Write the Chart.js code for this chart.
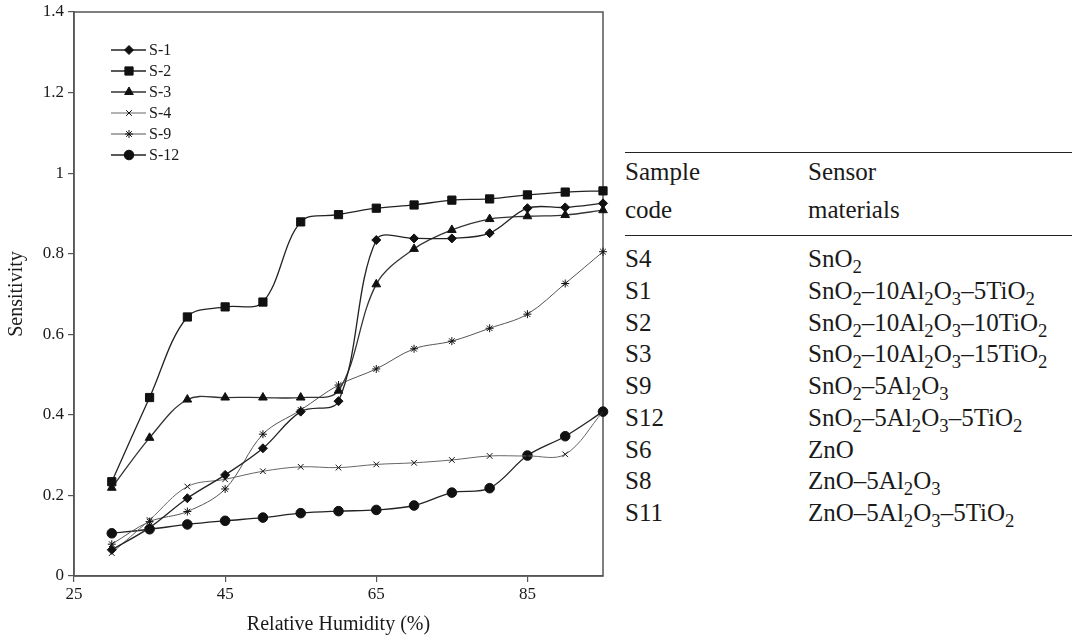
<!DOCTYPE html>
<html>
<head>
<meta charset="utf-8">
<script src="https://cdn.jsdelivr.net/npm/chart.js@4/dist/chart.umd.min.js"></script>
<style>
  body { margin: 0; background: #fff; }
  #wrap { position: relative; width: 1072px; height: 640px; font-family: "Liberation Serif", serif; color: #1a1a1a; }
  #plot { position: absolute; left: 0; top: 0; width: 615px; height: 640px; }
  #tbl { position: absolute; left: 625px; top: 152px; width: 447px; border-collapse: collapse; font-size: 25px; }
  #tbl th { font-weight: normal; text-align: left; line-height: 38px; padding: 0 0 6px 0; vertical-align: top; }
  #tbl thead tr { border-top: 1.5px solid #222; border-bottom: 1.5px solid #222; }
  #tbl td { line-height: 31.75px; padding: 0; white-space: nowrap; }
  #tbl tbody tr:first-child td { padding-top: 7px; }
  #tbl td:first-child, #tbl th:first-child { width: 183px; }
  sub { font-size: 0.75em; line-height: 0; vertical-align: -0.3em; }
</style>
</head>
<body>
<div id="wrap">
  <div id="plot"><canvas id="chart"></canvas></div>
  <table id="tbl">
    <thead><tr><th>Sample<br>code</th><th>Sensor<br>materials</th></tr></thead>
    <tbody id="tbl-body"></tbody>
  </table>
</div>
<script>
// humedad relativa (%)
const humidity = [30, 35, 40, 45, 50, 55, 60, 65, 70, 75, 80, 85, 90, 95]

// sensibilidad por muestra
const s1 = [0.065, 0.12, 0.193, 0.251, 0.317, 0.408, 0.434, 0.834, 0.838, 0.838, 0.851, 0.913, 0.915, 0.925]
const s2 = [0.234, 0.443, 0.643, 0.668, 0.68, 0.879, 0.897, 0.913, 0.921, 0.933, 0.936, 0.946, 0.953, 0.956]
const s3 = [0.219, 0.343, 0.438, 0.443, 0.443, 0.443, 0.46, 0.724, 0.812, 0.859, 0.886, 0.893, 0.896, 0.908]
const s4 = [0.057, 0.139, 0.222, 0.24, 0.26, 0.271, 0.269, 0.277, 0.281, 0.288, 0.298, 0.298, 0.302, 0.408]
const s9 = [0.079, 0.135, 0.16, 0.216, 0.352, 0.412, 0.474, 0.514, 0.564, 0.583, 0.615, 0.65, 0.726, 0.805]
const s12 = [0.106, 0.116, 0.128, 0.137, 0.145, 0.156, 0.161, 0.164, 0.175, 0.207, 0.218, 0.299, 0.347, 0.408]

const xTicks = [25, 45, 65, 85]
const yTicks = [0, 0.2, 0.4, 0.6, 0.8, 1, 1.2, 1.4]

// tabla de la derecha
const sampleCodes = ['S4', 'S1', 'S2', 'S3', 'S9', 'S12', 'S6', 'S8', 'S11']
const sensorMaterials = [
  'SnO<sub>2</sub>',
  'SnO<sub>2</sub>–10Al<sub>2</sub>O<sub>3</sub>–5TiO<sub>2</sub>',
  'SnO<sub>2</sub>–10Al<sub>2</sub>O<sub>3</sub>–10TiO<sub>2</sub>',
  'SnO<sub>2</sub>–10Al<sub>2</sub>O<sub>3</sub>–15TiO<sub>2</sub>',
  'SnO<sub>2</sub>–5Al<sub>2</sub>O<sub>3</sub>',
  'SnO<sub>2</sub>–5Al<sub>2</sub>O<sub>3</sub>–5TiO<sub>2</sub>',
  'ZnO',
  'ZnO–5Al<sub>2</sub>O<sub>3</sub>',
  'ZnO–5Al<sub>2</sub>O<sub>3</sub>–5TiO<sub>2</sub>'
]

const body = document.getElementById('tbl-body')
sampleCodes.forEach((code, i) => {
  const tr = document.createElement('tr')
  tr.innerHTML = `<td>${code}</td><td>${sensorMaterials[i]}</td>`
  body.appendChild(tr)
})

const serif = '"Liberation Serif", "Times New Roman", serif'

function serie(label, data, style, radius, color, width) {
  return {
    label,
    data: humidity.map((x, i) => ({ x, y: data[i] })),
    borderColor: color,
    borderWidth: width,
    pointStyle: style,
    pointRadius: radius,
    pointHoverRadius: radius,
    pointBackgroundColor: '#111',
    pointBorderColor: '#111',
    pointBorderWidth: 1,
    tension: 0.35,
    clip: false
  }
}

// leyenda dentro del area de la grafica
const insideLegend = {
  id: 'insideLegend',
  afterDatasetsDraw(chart) {
    const ctx = chart.ctx
    const x0 = chart.chartArea.left + 37
    chart.data.datasets.forEach((ds, i) => {
      const y = 50 + i * 21
      ctx.save()
      ctx.strokeStyle = ds.borderColor
      ctx.lineWidth = ds.borderWidth
      ctx.beginPath()
      ctx.moveTo(x0, y)
      ctx.lineTo(x0 + 35, y)
      ctx.stroke()
      ctx.fillStyle = ds.pointBackgroundColor
      ctx.strokeStyle = ds.pointBorderColor
      ctx.lineWidth = 1
      Chart.helpers.drawPoint(ctx, { pointStyle: ds.pointStyle, radius: ds.pointRadius, rotation: 0, borderWidth: 1 }, x0 + 18, y)
      ctx.fillStyle = '#1a1a1a'
      ctx.font = '16px ' + serif
      ctx.textBaseline = 'middle'
      ctx.fillText(ds.label, x0 + 38, y + 1)
      ctx.restore()
    })
  }
}

// marco completo (arriba y derecha)
const frame = {
  id: 'frame',
  beforeDatasetsDraw(chart) {
    const { left, top, right, bottom } = chart.chartArea
    const ctx = chart.ctx
    ctx.save()
    ctx.strokeStyle = '#555'
    ctx.lineWidth = 1.5
    ctx.strokeRect(left, top, right - left, bottom - top)
    ctx.restore()
  }
}

new Chart(document.getElementById('chart'), {
  type: 'line',
  data: {
    datasets: [
      serie('S-1', s1, 'rectRot', 4.5, '#222', 1.3),
      serie('S-2', s2, 'rect', 5.8, '#222', 1.3),
      serie('S-3', s3, 'triangle', 5, '#333', 1.3),
      serie('S-4', s4, 'crossRot', 4, '#666', 1),
      serie('S-9', s9, 'star', 4, '#555', 1),
      serie('S-12', s12, 'circle', 4.8, '#222', 1.3)
    ]
  },
  options: {
    responsive: true,
    maintainAspectRatio: false,
    animation: false,
    events: [],
    layout: { padding: { top: 12, right: 12, left: 0, bottom: 0 } },
    plugins: { legend: { display: false }, tooltip: { enabled: false } },
    scales: {
      x: {
        type: 'linear',
        min: 25,
        max: 95,
        afterBuildTicks: s => { s.ticks = xTicks.map(v => ({ value: v })) },
        afterFit: s => { s.height = 64; s.paddingLeft = 0; s.paddingRight = 0 },
        grid: { drawOnChartArea: false, tickLength: 6, color: '#555', lineWidth: 1.2 },
        border: { color: '#555', width: 1.5 },
        ticks: { color: '#1a1a1a', font: { family: serif, size: 17 }, padding: 2, maxRotation: 0 },
        title: { display: true, text: 'Relative Humidity (%)', color: '#1a1a1a', font: { family: serif, size: 20 }, padding: { top: 0, bottom: 3 } }
      },
      y: {
        min: 0,
        max: 1.4,
        afterBuildTicks: s => { s.ticks = yTicks.map(v => ({ value: v })) },
        afterFit: s => { s.width = 74; s.paddingTop = 0; s.paddingBottom = 0 },
        grid: { drawOnChartArea: false, tickLength: 6, color: '#555', lineWidth: 1.2 },
        border: { color: '#555', width: 1.5 },
        ticks: { color: '#1a1a1a', font: { family: serif, size: 17 }, padding: 4, callback: v => String(+v.toFixed(1)) },
        title: { display: true, text: 'Sensitivity', color: '#1a1a1a', font: { family: serif, size: 20 }, padding: { top: 5, bottom: 0 } }
      }
    }
  },
  plugins: [frame, insideLegend]
})
</script>
</body>
</html>
